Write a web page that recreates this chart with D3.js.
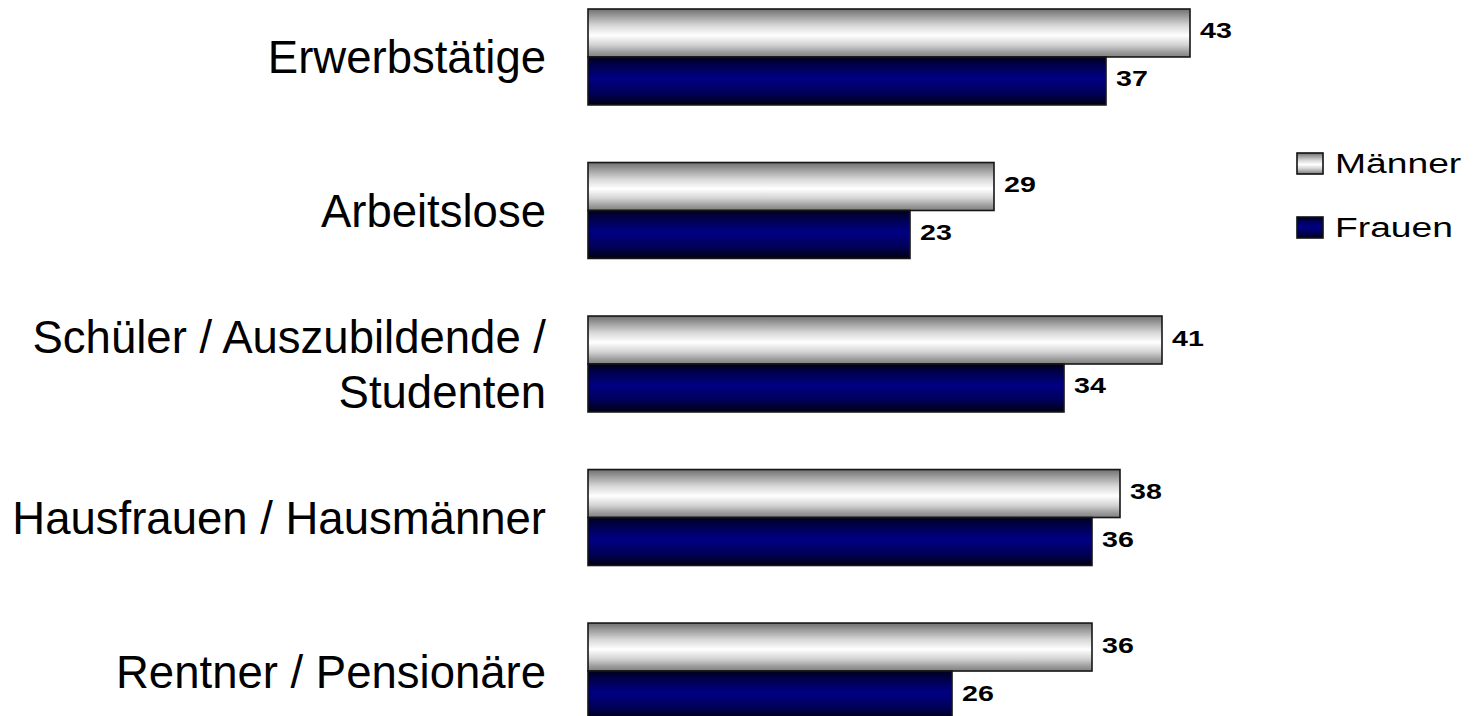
<!DOCTYPE html>
<html>
<head>
<meta charset="utf-8">
<script src="https://cdn.jsdelivr.net/npm/d3@7"></script>
<style>
  html, body { margin: 0; padding: 0; background: #ffffff; overflow: hidden; }
  svg { display: block; }
  text { font-family: "Liberation Sans", Arial, Helvetica, sans-serif; fill: #000; }
</style>
</head>
<body>
<svg id="chart" width="1476" height="716"></svg>
<script>
// ---- data ----
const categories = ["Erwerbstätige", "Arbeitslose", "Schüler / Auszubildende /\nStudenten", "Hausfrauen / Hausmänner", "Rentner / Pensionäre"];
const series = ["Männer", "Frauen"];
const maenner = [43, 29, 41, 38, 36];
const frauen = [37, 23, 34, 36, 26];

const values = { "Männer": maenner, "Frauen": frauen };

const svg = d3.select("#chart");
const defs = svg.append("defs");

function grad(id, stops) {
  const g = defs.append("linearGradient").attr("id", id)
    .attr("x1", 0).attr("y1", 0).attr("x2", 0).attr("y2", 1);
  stops.forEach(s => g.append("stop").attr("offset", s[0]).attr("stop-color", s[1]));
}
grad("g-maenner", [[0, "#707070"], [0.12, "#949494"], [0.35, "#d8d8d8"], [0.55, "#ffffff"], [0.75, "#d2d2d2"], [0.9, "#9c9c9c"], [1, "#808080"]]);
grad("g-frauen", [[0, "#00001a"], [0.15, "#000048"], [0.45, "#000084"], [0.75, "#00005a"], [1, "#000012"]]);
const fills = { "Männer": "url(#g-maenner)", "Frauen": "url(#g-frauen)" };

// ---- scales ----
const x = d3.scaleLinear().domain([0, 50]).range([588, 1288]);
const y = d3.scaleBand().domain(categories).range([9, 719]).paddingInner(0.375).paddingOuter(0);
const ys = d3.scaleBand().domain(series).range([0, y.bandwidth()]);

// ---- bars ----
const groups = svg.append("g").selectAll("g.grp")
  .data(categories).join("g")
  .attr("class", "grp")
  .attr("transform", d => `translate(0,${y(d)})`);

groups.each(function (cat, i) {
  const g = d3.select(this);
  series.forEach(s => {
    const v = values[s][i];
    g.append("rect")
      .attr("x", x(0))
      .attr("y", ys(s))
      .attr("width", x(v) - x(0))
      .attr("height", ys.bandwidth())
      .attr("fill", fills[s])
      .attr("stroke", "#161616")
      .attr("stroke-width", 1.6);
    g.append("g")
      .attr("transform", `translate(${x(v) + 10},${ys(s) + ys.bandwidth() / 2 + 5.5}) scale(1.3,1)`)
      .append("text")
      .attr("font-size", 22)
      .attr("font-weight", "bold")
      .text(v);
  });
  // category label
  const lines = cat.split("\n");
  const lh = 56;
  const cy = y.bandwidth() / 2 + 16.5 - (lines.length - 1) * lh / 2;
  const t = g.append("text")
    .attr("text-anchor", "end")
    .attr("font-size", 45.5);
  lines.forEach((ln, k) => {
    t.append("tspan").attr("x", 546).attr("y", cy + k * lh).text(ln);
  });
});

// ---- legend ----
const legend = svg.append("g");
series.forEach((s, k) => {
  const ly = 153 + k * 64;
  legend.append("rect")
    .attr("x", 1297).attr("y", ly)
    .attr("width", 26).attr("height", 21)
    .attr("fill", fills[s])
    .attr("stroke", "#111").attr("stroke-width", 1.6);
  legend.append("g")
    .attr("transform", `translate(1335,${ly + 20}) scale(1.33,1)`)
    .append("text")
    .attr("font-size", 28)
    .text(s);
});
</script>
</body>
</html>
